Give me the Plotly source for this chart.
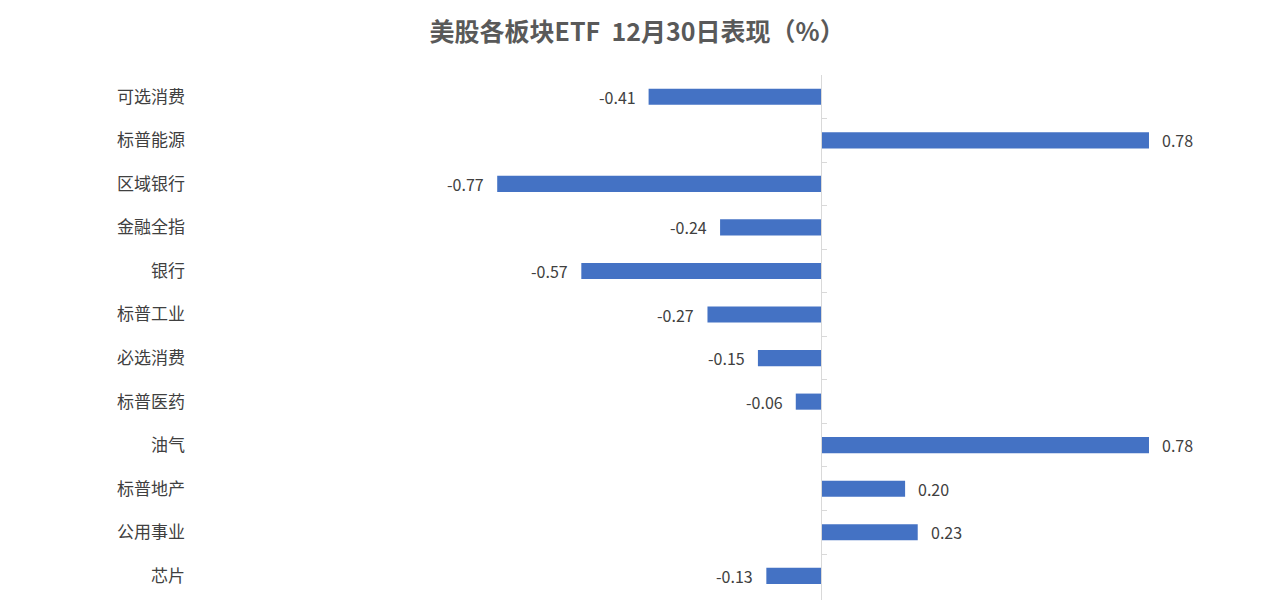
import plotly.graph_objects as go

categories = ["可选消费", "标普能源", "区域银行", "金融全指", "银行", "标普工业",
              "必选消费", "标普医药", "油气", "标普地产", "公用事业", "芯片"]
values = [-0.41, 0.78, -0.77, -0.24, -0.57, -0.27, -0.15, -0.06, 0.78, 0.20, 0.23, -0.13]
title_text = "美股各板块ETF  12月30日表现（%）"

# page body has an 8px margin, so figure coords = screen coords - 8
W, H = 1280, 600
ML, MR, MT, MB = 192, 0, 67, 0
plot_w = W - ML - MR
zero_px = 813
px_per_unit = 420.5
x_lo = -(zero_px - ML) / px_per_unit
x_hi = (W - MR - zero_px) / px_per_unit
cat_px = 43.55
y_bottom = -0.5 + (H - MT - MB) / cat_px
yrange = [y_bottom, -0.5]

font_family = "Noto Sans CJK SC, Microsoft YaHei, sans-serif"

fig = go.Figure()
fig.add_trace(go.Scatter(x=[0] * len(categories), y=categories, mode="markers",
                         marker=dict(opacity=0), hoverinfo="skip", showlegend=False,
                         yaxis="y"))
fig.add_trace(go.Bar(x=values, y=categories, orientation="h", yaxis="y2",
                     marker=dict(color="#4472C4", line=dict(width=0)),
                     showlegend=False))

for c, v in zip(categories, values):
    fig.add_annotation(x=v, y=c, yref="y2", text=f"{v:.2f}", showarrow=False,
                       xanchor="right" if v < 0 else "left",
                       xshift=-11 if v < 0 else 11,
                       font=dict(family=font_family, size=16, color="#404040"))

fig.update_layout(
    width=W, height=H,
    margin=dict(l=ML, r=MR, t=MT, b=MB),
    paper_bgcolor="white", plot_bgcolor="white",
    bargap=0.63,
    title=dict(text=title_text, x=0.4915, xanchor="center", y=0.96, yanchor="middle",
               font=dict(family=font_family, size=25, color="#595959", weight="bold")),
    xaxis=dict(range=[x_lo, x_hi], showgrid=False, zeroline=False, showticklabels=False,
               showline=False, ticks=""),
    yaxis=dict(type="category", categoryarray=categories, range=yrange, showgrid=False,
               zeroline=False, showline=False, ticks="", ticklabelstandoff=14,
               tickfont=dict(family=font_family, size=17, color="#404040")),
    yaxis2=dict(type="category", categoryarray=categories, range=yrange, overlaying="y",
                anchor="free", position=(zero_px - ML) / plot_w, side="left",
                showgrid=False, zeroline=False, showticklabels=False,
                showline=True, linecolor="#D9D9D9", linewidth=1,
                ticks="inside", tickson="boundaries", ticklen=5, tickcolor="#D9D9D9"),
)

fig.write_html("out.html")
